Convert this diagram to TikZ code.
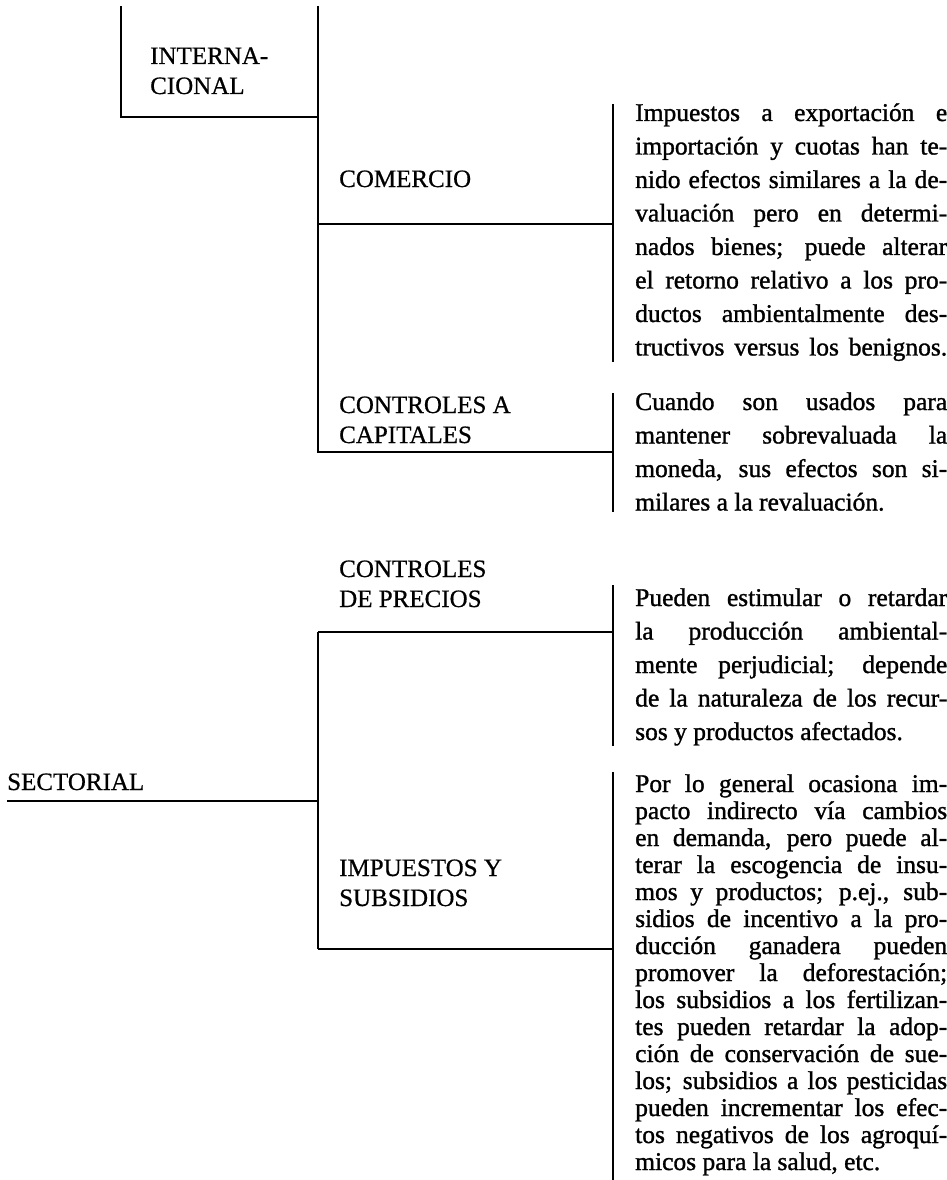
\documentclass[tikz,border=0pt]{standalone}
\usepackage{fontspec}
\setmainfont{Liberation Serif}
\newfontfamily\bodyfont[FakeBold=1.2]{Liberation Serif}
\newfontfamily\labelfont[FakeBold=0.6]{Liberation Serif}
\newcommand\jusline[1]{\hbox to 312pt{#1}}
\newcommand\natline[1]{\hbox{#1}}
\begin{document}
\begin{tikzpicture}[x=1pt,y=-1pt,
  rule/.style={line width=1.8pt, line cap=butt},
  lbl/.style={anchor=base west, inner sep=0pt, font=\labelfont\fontsize{25}{30}\selectfont},
  para/.style={anchor=base west, inner sep=0pt, font=\bodyfont\fontsize{25.5}{33.5}\selectfont},
  tightpara/.style={anchor=base west, inner sep=0pt, font=\bodyfont\fontsize{25.5}{27}\selectfont}]
\useasboundingbox (0,0) rectangle (947,1180);

% coordinates of the bracket structure
\coordinate (a1) at (121,6);
\coordinate (a2) at (121,117);
\coordinate (b1) at (318,6);
\coordinate (b2) at (318,117);
\coordinate (b3) at (318,224);
\coordinate (b4) at (318,452);
\coordinate (c3) at (613,224);
\coordinate (c4) at (613,452);
\coordinate (p1t) at (613,104);
\coordinate (p1b) at (613,362);
\coordinate (p2t) at (613,393);
\coordinate (p2b) at (613,512);
\coordinate (p3t) at (613,585);
\coordinate (p3b) at (613,746);
\coordinate (p4t) at (613,772);
\coordinate (p4b) at (613,1180);
\coordinate (s0) at (7,801);
\coordinate (s1) at (318,801);
\coordinate (d1) at (318,632);
\coordinate (d2) at (318,949);
\coordinate (e1) at (613,632);
\coordinate (e2) at (613,949);

% labels
\node[lbl] (intl) at (150,64) {\vtop{\natline{INTERNA-}\natline{CIONAL}}};
\node[lbl] (com) at (339,187) {COMERCIO};
\node[lbl] (cap) at (339,413) {\vtop{\natline{CONTROLES A}\natline{CAPITALES}}};
\node[lbl] (pre) at (339,577) {\vtop{\natline{CONTROLES}\natline{DE PRECIOS}}};
\node[lbl] (sec) at (7,790) {SECTORIAL};
\node[lbl] (imp) at (339,876) {\vtop{\natline{IMPUESTOS Y}\natline{SUBSIDIOS}}};

% paragraphs
\node[para] (t1) at (635,121) {\vtop{%
\jusline{Impuestos a exportación e}
\jusline{importación y cuotas han te-}
\jusline{nido efectos similares a la de-}
\jusline{valuación pero en determi-}
\jusline{nados bienes; puede alterar}
\jusline{el retorno relativo a los pro-}
\jusline{ductos ambientalmente des-}
\jusline{tructivos versus los benignos.}}};

\node[para] (t2) at (635,410) {\vtop{%
\jusline{Cuando son usados para}
\jusline{mantener sobrevaluada la}
\jusline{moneda, sus efectos son si-}
\natline{milares a la revaluación.}}};

\node[para] (t3) at (635,606) {\vtop{%
\jusline{Pueden estimular o retardar}
\jusline{la producción ambiental-}
\jusline{mente perjudicial; depende}
\jusline{de la naturaleza de los recur-}
\natline{sos y productos afectados.}}};

\node[tightpara] (t4) at (635,792) {\vtop{%
\jusline{Por lo general ocasiona im-}
\jusline{pacto indirecto vía cambios}
\jusline{en demanda, pero puede al-}
\jusline{terar la escogencia de insu-}
\jusline{mos y productos; p.ej., sub-}
\jusline{sidios de incentivo a la pro-}
\jusline{ducción ganadera pueden}
\jusline{promover la deforestación;}
\jusline{los subsidios a los fertilizan-}
\jusline{tes pueden retardar la adop-}
\jusline{ción de conservación de sue-}
\jusline{los; subsidios a los pesticidas}
\jusline{pueden incrementar los efec-}
\jusline{tos negativos de los agroquí-}
\natline{micos para la salud, etc.}}};

% rules
\draw[rule] (a1) -- (a2) -- (b2);
\draw[rule] (b1) -- (b4) -- (c4);
\draw[rule] (b3) -- (c3);
\draw[rule] (p1t) -- (p1b);
\draw[rule] (p2t) -- (p2b);
\draw[rule] (p3t) -- (p3b);
\draw[rule] (p4t) -- (p4b);
\draw[rule] (s0) -- (s1);
\draw[rule] (d1) -- (d2);
\draw[rule] (d1) -- (e1);
\draw[rule] (d2) -- (e2);
\end{tikzpicture}
\end{document}
